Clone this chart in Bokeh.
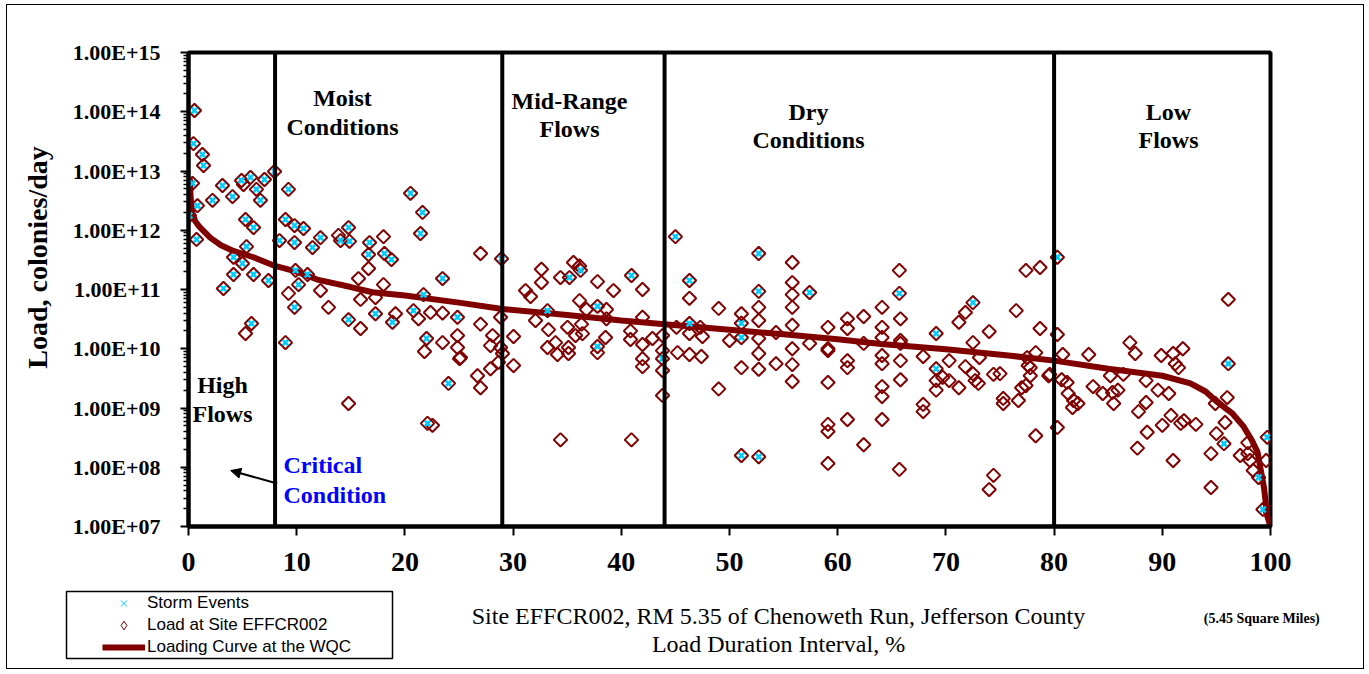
import math
from bokeh.plotting import figure
from bokeh.layouts import column, row
from bokeh.models import (Range1d, FixedTicker, CustomJSTickFormatter, Span, Label,
                          Arrow, NormalHead, Legend, LegendItem, BoxAnnotation)
from bokeh.embed import file_html
from bokeh.resources import INLINE

# ---------------- data ----------------
x_ticks = [0, 10, 20, 30, 40, 50, 60, 70, 80, 90, 100]
y_ticks = [1e7, 1e8, 1e9, 1e10, 1e11, 1e12, 1e13, 1e14, 1e15]
y_tick_labels = ["1.00E+07", "1.00E+08", "1.00E+09", "1.00E+10", "1.00E+11",
                 "1.00E+12", "1.00E+13", "1.00E+14", "1.00E+15"]
zone_bounds = [8, 29, 44, 80]

curve_pct = [0.12, 0.2, 0.35, 0.6, 1, 2, 3, 4, 6, 8, 10, 12, 15, 17, 20, 25, 29, 35, 40, 44,
             50, 55, 60, 64, 70, 76, 80, 85, 90, 92.6, 94, 95, 96.5, 97.5, 98.3, 98.8,
             99.4, 99.7, 100]
curve_load = [7.5e12, 3.5e12, 2.0e12, 1.45e12, 1.15e12, 7.5e11, 5.6e11, 4.6e11, 3.5e11, 2.5e11,
              2.0e11, 1.45e11, 1.1e11, 9e10, 7.9e10, 6e10, 4.7e10, 3.7e10, 3.0e10, 2.6e10,
              2.1e10, 1.75e10, 1.45e10, 1.2e10, 9.8e9, 7.6e9, 6.3e9, 4.6e9, 3.5e9, 2.6e9,
              1.9e9, 1.3e9, 8e8, 4.9e8, 2.8e8, 1.8e8, 4.5e7, 1.5e7, 1e7]

# storm-event samples (percent, colonies/day)
storm_points = [
    (0.55, 1.05e14), (0.46, 2.9e13), (1.29, 1.9e13), (1.39, 1.24e13), (0.37, 6.2e12),
    (0.83, 2.6e12), (0.09, 1.77e12), (0.74, 7.0e11), (2.22, 3.2e12), (3.14, 5.7e12),
    (4.07, 3.7e12), (4.90, 6.9e12), (5.73, 7.8e12), (6.28, 4.9e12), (6.65, 3.2e12),
    (7.02, 7.2e12), (7.95, 9.8e12), (5.27, 1.52e12), (6.01, 1.11e12), (5.36, 5.3e11),
    (4.16, 3.5e11), (4.99, 2.75e11), (4.16, 1.79e11), (6.01, 1.79e11), (3.23, 1.04e11),
    (7.39, 1.42e11), (5.82, 2.67e10),
    (9.24, 4.9e12), (8.96, 1.52e12), (9.80, 1.2e12), (10.63, 1.07e12), (8.41, 6.7e11),
    (9.80, 6.2e11), (11.46, 5.1e11), (12.20, 7.5e11), (14.05, 6.7e11), (14.79, 1.11e12),
    (14.88, 6.5e11), (16.73, 6.2e11), (16.64, 3.9e11), (18.11, 4.05e11), (18.76, 3.2e11),
    (9.89, 2.1e11), (11.0, 1.79e11), (10.17, 1.21e11), (9.80, 5.0e10), (14.79, 3.1e10),
    (17.28, 3.9e10), (18.85, 2.8e10), (20.52, 4.2e12), (21.63, 2.0e12), (21.44, 8.8e11),
    (23.48, 1.53e11), (21.72, 8.2e10), (20.79, 4.4e10), (24.86, 3.4e10), (22.0, 1.49e10),
    (24.03, 2.6e9), (22.09, 5.5e8), (8.96, 1.27e10), (28.93, 3.3e11),
    (33.18, 4.4e10), (35.21, 1.59e11), (36.23, 2.1e11), (37.80, 5.2e10), (37.80, 1.09e10),
    (40.94, 1.72e11), (43.81, 6.8e9),
    (45.0, 7.8e11), (46.3, 1.42e11), (46.3, 2.67e10), (51.1, 2.7e10), (51.1, 1.55e10),
    (51.1, 1.58e8), (52.7, 1.5e8), (52.7, 4.05e11), (52.7, 9.3e10), (57.4, 8.9e10),
    (65.7, 8.6e10), (69.1, 1.81e10), (69.1, 4.6e9), (72.5, 6.0e10),
    (80.3, 3.5e11), (95.7, 2.5e8), (96.1, 5.6e9), (98.9, 6.7e7), (99.7, 3.2e8), (99.3, 1.94e7),
]

# other (non-storm) samples (percent, colonies/day)
sample_points = [
    (5.08, 5.9e12), (5.27, 1.81e10),
    (13.86, 8.2e11), (18.02, 7.8e11), (9.24, 8.6e10), (12.20, 9.6e10), (12.94, 5.0e10),
    (15.71, 1.53e11), (16.64, 2.26e11), (15.90, 6.8e10), (17.28, 7.3e10), (18.02, 1.21e11),
    (15.90, 2.2e10), (19.13, 3.9e10), (21.26, 3.2e10), (22.37, 4.1e10), (23.48, 4.0e10),
    (21.81, 9.0e9), (23.48, 1.27e10), (24.86, 1.67e10), (24.86, 1.05e10), (25.05, 6.8e9),
    (14.79, 1.19e9), (22.55, 5.1e8), (26.99, 4.05e11), (25.14, 7.1e9), (26.99, 2.6e10),
    (28.84, 3.4e10), (28.10, 1.67e10), (27.91, 1.13e10), (28.84, 1.05e10), (28.65, 5.9e9),
    (27.91, 4.6e9), (26.71, 3.5e9), (26.99, 2.2e9),
    (29.02, 8.3e9), (30.04, 1.61e10), (30.04, 5.2e9), (31.15, 9.6e10), (31.61, 7.6e10),
    (32.07, 3.0e10), (32.62, 2.2e11), (32.62, 1.31e11), (33.27, 2.1e10), (33.92, 1.27e10),
    (33.18, 1.05e10), (34.10, 8.0e9), (34.38, 1.59e11), (35.03, 2.3e10), (35.12, 1.05e10),
    (35.12, 8.3e9), (35.58, 2.86e11), (36.14, 2.5e11), (36.14, 6.5e10), (35.77, 1.67e10),
    (36.32, 2.6e10), (36.41, 1.8e10), (36.78, 4.6e10), (37.80, 1.36e11), (37.80, 8.6e9),
    (38.54, 1.55e10), (38.63, 4.6e10), (38.63, 3.2e10), (39.28, 9.6e10), (40.85, 2.0e10),
    (40.85, 1.43e10), (41.96, 1.0e11), (41.96, 3.4e10), (41.96, 1.18e10), (41.96, 6.8e9),
    (41.96, 5.0e9), (42.88, 1.49e10), (43.81, 1.67e10), (43.81, 9.3e9), (43.81, 4.3e9),
    (43.81, 1.63e9), (34.38, 2.9e8), (40.94, 2.9e8),
    (46.3, 7.1e10), (49.0, 4.8e10), (45.1, 2.3e10), (46.3, 1.81e10), (47.3, 2.3e10),
    (47.5, 1.61e10), (50.0, 1.38e10), (45.2, 8.6e9), (46.3, 8.0e9), (47.4, 7.4e9),
    (49.0, 2.1e9), (51.1, 3.9e10), (51.1, 4.8e9), (52.7, 5.0e10), (52.7, 3.0e10),
    (52.7, 1.49e10), (52.7, 8.3e9), (52.7, 4.5e9), (54.3, 1.88e10), (54.3, 5.6e9),
    (55.8, 2.86e11), (55.8, 1.31e11), (55.8, 8.2e10), (55.8, 5.0e10), (55.8, 2.5e10),
    (55.8, 1.0e10), (55.8, 5.4e9), (55.8, 2.8e9), (57.4, 1.23e10), (59.1, 2.3e10),
    (59.1, 1.0e10), (59.1, 9.3e9), (59.1, 2.7e9), (59.1, 5.3e8), (59.1, 4.0e8),
    (59.1, 1.16e8), (60.9, 3.2e10), (60.9, 2.2e10), (60.9, 6.3e9), (60.9, 4.8e9),
    (60.9, 6.4e8), (62.4, 3.5e10), (62.4, 1.23e10), (62.4, 2.4e8), (64.1, 5.0e10),
    (64.1, 2.3e10), (64.1, 1.55e10), (64.1, 7.7e9), (64.1, 5.6e9), (64.1, 2.3e9),
    (64.1, 1.56e9), (64.1, 6.4e8), (65.7, 2.1e11), (65.8, 3.2e10), (65.8, 1.38e10),
    (65.8, 1.23e10), (65.8, 6.3e9), (65.8, 3.0e9), (65.7, 9.2e7), (67.9, 7.4e9),
    (67.9, 1.15e9), (67.9, 8.7e8), (69.1, 2.9e9), (69.1, 2.0e9), (69.7, 3.3e9),
    (70.3, 6.3e9), (70.3, 2.9e9), (71.2, 2.8e10), (71.2, 2.2e9), (71.8, 4.1e10),
    (71.8, 5.0e9), (72.5, 1.27e10), (72.5, 3.8e9), (72.7, 2.9e9), (73.1, 7.1e9),
    (73.0, 2.6e9), (74.0, 1.95e10), (74.4, 3.7e9), (75.0, 3.8e9), (75.3, 1.45e9),
    (75.3, 1.19e9), (74.4, 7.3e7), (74.0, 4.2e7), (76.5, 4.4e10), (76.7, 1.34e9),
    (77.0, 2.2e9), (77.8, 3.5e9), (77.8, 4.8e9), (77.5, 7.1e9), (78.3, 8.6e9),
    (78.3, 3.4e8), (77.4, 2.1e11), (78.7, 2.35e11), (78.7, 2.2e10), (79.5, 3.5e9),
    (77.4, 2.4e9), (77.6, 5.2e9), (79.6, 3.7e9),
    (80.3, 1.74e10), (80.8, 8.0e9), (80.3, 4.7e8), (80.7, 3.0e9), (81.2, 2.7e9),
    (81.3, 1.76e9), (81.8, 1.34e9), (81.7, 1.02e9), (82.2, 1.19e9), (83.2, 8.0e9),
    (83.6, 2.3e9), (84.5, 1.76e9), (85.2, 3.5e9), (85.4, 1.83e9), (85.9, 2.0e9),
    (85.5, 1.19e9), (86.4, 3.7e9), (87.0, 1.27e10), (87.5, 8.3e9), (87.7, 2.1e8),
    (87.8, 8.7e8), (88.5, 2.9e9), (88.5, 1.24e9), (88.6, 3.9e8), (89.6, 2.0e9),
    (89.9, 7.7e9), (90.0, 5.1e8), (90.6, 1.76e9), (91.0, 8.3e9), (91.0, 1.3e8),
    (91.2, 5.6e9), (91.5, 4.8e9), (91.9, 1.0e10), (90.8, 7.5e8), (91.7, 5.5e8),
    (92.0, 6.1e8), (93.1, 5.3e8), (94.5, 1.7e8), (94.5, 4.55e7), (94.9, 1.19e9),
    (96.0, 1.5e9), (95.8, 5.7e8), (95.0, 3.7e8), (96.1, 6.8e10), (97.2, 1.58e8),
    (97.9, 2.6e8), (98.1, 1.3e8), (98.4, 8.8e7), (99.6, 1.3e8), (100.0, 1.72e7),
    (97.9, 1.7e8),
]

storm_pct = [p[0] for p in storm_points]
storm_val = [p[1] for p in storm_points]
load_pct = storm_pct + [p[0] for p in sample_points]
load_val = storm_val + [p[1] for p in sample_points]

# ---------------- styling ----------------
SERIF = "Liberation Serif"
SANS = "Liberation Sans"
MAROON = "#800000"
CYAN = "#00CCFF"

# page layout: content box starts at page (7, 5); left strip 7..62, main 62..1363
STRIP_W = 55
MAIN_W = 1301


def bare(fig):
    fig.xgrid.visible = False
    fig.ygrid.visible = False
    fig.outline_line_color = None
    fig.background_fill_color = "white"
    fig.border_fill_color = "white"
    try:
        fig.frame_align = False
    except Exception:
        pass


p = figure(width=MAIN_W, height=580, x_range=Range1d(0, 100), y_range=Range1d(1e7, 1e15),
           y_axis_type="log", output_backend="svg", toolbar_location=None,
           min_border_left=126, min_border_right=93, min_border_top=47, min_border_bottom=59)
bare(p)
p.outline_line_color = "black"
p.outline_line_width = 4

# axes
p.xaxis.ticker = FixedTicker(ticks=x_ticks, minor_ticks=[])
p.xaxis.axis_line_width = 4
p.xaxis.major_tick_out = 9
p.xaxis.major_tick_in = 0
p.xaxis.major_tick_line_width = 2
p.xaxis.major_label_text_font = SERIF
p.xaxis.major_label_text_font_style = "bold"
p.xaxis.major_label_text_font_size = "28px"
p.xaxis.major_label_standoff = 17
p.xaxis.major_label_text_color = "black"

minor = [m * t for t in y_ticks[:-1] for m in range(2, 10)]
p.yaxis.ticker = FixedTicker(ticks=y_ticks, minor_ticks=minor)
p.yaxis.formatter = CustomJSTickFormatter(args=dict(labels=y_tick_labels),
                                          code="return labels[Math.round(Math.log10(tick)) - 7];")
p.yaxis.axis_line_width = 4
p.yaxis.major_tick_out = 8
p.yaxis.major_tick_in = 0
p.yaxis.major_tick_line_width = 2
p.yaxis.minor_tick_out = 5
p.yaxis.minor_tick_in = 0
p.yaxis.minor_tick_line_width = 1.5
p.yaxis.major_label_text_font = SERIF
p.yaxis.major_label_text_font_style = "bold"
p.yaxis.major_label_text_font_size = "22px"
p.yaxis.major_label_standoff = 20
p.yaxis.major_label_text_color = "black"

# zone dividers
for b in zone_bounds:
    p.add_layout(Span(location=b, dimension="height", line_color="black", line_width=4))

# data
r_load = p.scatter(load_pct, load_val, marker="square", angle=math.pi / 4, size=9.5,
                   fill_color=None, line_color=MAROON, line_width=2)
r_curve = p.line(curve_pct, curve_load, line_color=MAROON, line_width=6)
r_storm = p.scatter(storm_pct, storm_val, marker="x", size=8, line_color=CYAN, line_width=2.5)

# ---------------- in-frame annotations (screen px relative to the frame) ----------------
FL, FB = 188, 526


def scr(px, py):
    return dict(x=px - FL, y=FB - py, x_units="screen", y_units="screen")


def text(t, px, py, size="24px", style="bold", color="black", align="center"):
    p.add_layout(Label(text=t, text_font=SERIF, text_font_size=size, text_font_style=style,
                       text_color=color, text_align=align, text_baseline="middle",
                       **scr(px, py)))


text("Moist", 342, 97)
text("Conditions", 342, 126)
text("Mid-Range", 569, 100)
text("Flows", 569, 128)
text("Dry", 808, 111)
text("Conditions", 808, 139)
text("Low", 1168, 111)
text("Flows", 1168, 139)
text("High", 222, 384)
text("Flows", 222, 413)
text("Critical", 283, 464, color="#0000FF", align="left")
text("Condition", 283, 494, color="#0000FF", align="left")

p.add_layout(Arrow(end=NormalHead(size=10, fill_color="black", line_color="black"),
                   x_start=8.2, y_start=5.3e7, x_end=3.9, y_end=8.8e7,
                   line_color="black", line_width=2))

# ---------------- left strip: y-axis title (coordinates = page pixels) ----------------
s = figure(width=STRIP_W, height=663, x_range=Range1d(7, 62), y_range=Range1d(668, 5),
           output_backend="svg", toolbar_location=None, min_border=0,
           min_border_left=0, min_border_right=0, min_border_top=0, min_border_bottom=0,
           x_axis_location=None, y_axis_location=None)
bare(s)
s.add_layout(Label(text="Load, colonies/day", x=37, y=257, angle=math.pi / 2,
                   text_font=SERIF, text_font_size="28px", text_font_style="bold",
                   text_color="black", text_align="center", text_baseline="middle"))

# ---------------- bottom strip: axis title, legend (coordinates = page pixels) ----------------
q = figure(width=MAIN_W, height=83, x_range=Range1d(62, 1363), y_range=Range1d(668, 585),
           output_backend="svg", toolbar_location=None, min_border=0,
           min_border_left=0, min_border_right=0, min_border_top=0, min_border_bottom=0,
           x_axis_location=None, y_axis_location=None)
bare(q)

for t, x, y, size, style in [
        ("Site EFFCR002, RM 5.35 of Chenoweth Run, Jefferson County", 778, 615, "24px", "normal"),
        ("Load Duration Interval, %", 778, 643, "24px", "normal"),
        ("(5.45  Square Miles)", 1263, 618, "14px", "bold")]:
    q.add_layout(Label(text=t, x=x, y=y, text_font=SERIF, text_font_size=size,
                       text_font_style=style, text_color="black", text_align="center",
                       text_baseline="middle"))

q.add_layout(BoxAnnotation(left=66, right=392, top=591, bottom=658, fill_alpha=0,
                           line_color="black", line_width=1.5, line_alpha=1))

l_storm = q.scatter(x=[-1000], y=[-1000], marker="x", size=9, line_color=CYAN, line_width=1)
l_load = q.scatter(x=[-1000], y=[-1000], marker="diamond", size=10,
                   fill_color=None, line_color=MAROON, line_width=1)
l_curve = q.line(x=[-1000, -999], y=[-1000, -1000], line_color=MAROON, line_width=6)
legend = Legend(items=[LegendItem(label="Storm Events", renderers=[l_storm]),
                       LegendItem(label="Load at Site EFFCR002", renderers=[l_load]),
                       LegendItem(label="Loading Curve at the WQC", renderers=[l_curve])],
                location=(96 - 62, 4))
legend.border_line_alpha = 0
legend.background_fill_alpha = 0
legend.padding = 6
legend.margin = 0
legend.spacing = 0
legend.glyph_width = 43
legend.glyph_height = 22
legend.label_height = 22
legend.label_standoff = 2
legend.label_text_font = SANS
legend.label_text_font_size = "17px"
legend.label_text_color = "black"
q.add_layout(legend)

layout = row(s, column(p, q, spacing=0), spacing=0, margin=(4, 0, 0, 6),
             styles={"border": "1px solid black"})

open("out.html", "w").write(file_html(layout, INLINE))
